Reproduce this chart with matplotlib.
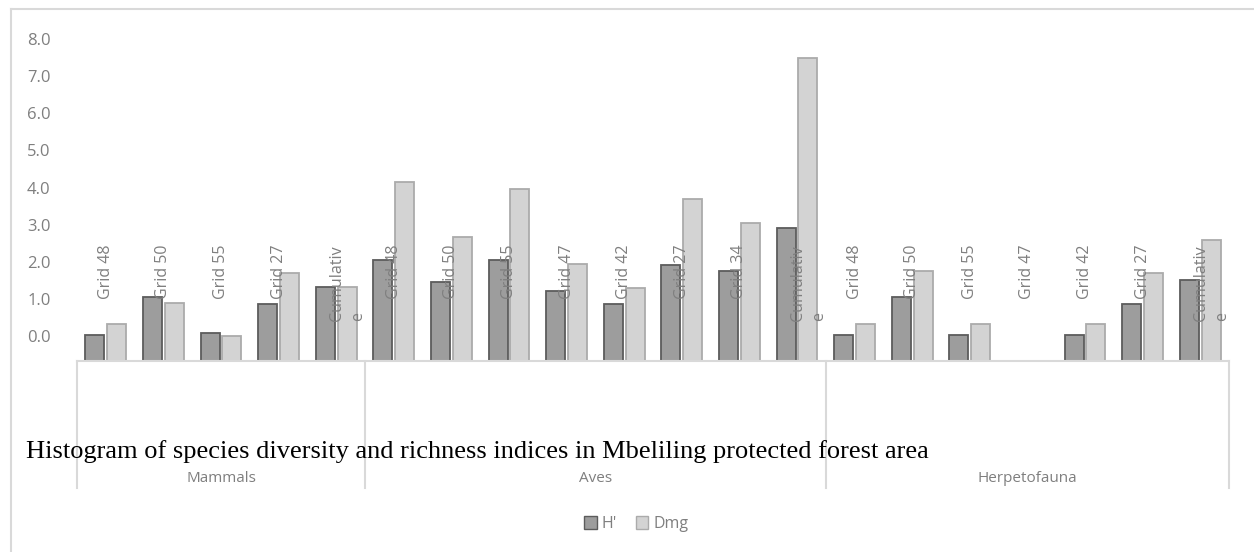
import matplotlib
matplotlib.use("Agg")
import matplotlib.pyplot as plt
import numpy as np
from matplotlib.patches import Patch
from matplotlib.lines import Line2D
from matplotlib.transforms import offset_copy

# taxa groups and their sampling sites
groups = ["Mammals", "Aves", "Herpetofauna"]
mammal_sites = ["Grid 48", "Grid 50", "Grid 55", "Grid 27", "Cumulative"]
aves_sites = ["Grid 48", "Grid 50", "Grid 55", "Grid 47", "Grid 42", "Grid 27", "Grid 34", "Cumulative"]
herp_sites = ["Grid 48", "Grid 50", "Grid 55", "Grid 47", "Grid 42", "Grid 27", "Cumulative"]

# Shannon diversity (H') and Margalef richness (Dmg)
mammal_h = [0.03, 1.04, 0.07, 0.85, 1.32]
mammal_dmg = [0.32, 0.88, 0.01, 1.69, 1.32]
aves_h = [2.04, 1.45, 2.06, 1.22, 0.85, 1.92, 1.74, 2.90]
aves_dmg = [4.15, 2.68, 3.95, 1.95, 1.30, 3.69, 3.05, 7.49]
herp_h = [0.03, 1.04, 0.03, np.nan, 0.03, 0.85, 1.51]
herp_dmg = [0.32, 1.76, 0.32, np.nan, 0.32, 1.69, 2.60]

title = "Histogram of species diversity and richness indices in Mbeliling protected forest area"

plt.rcParams['font.family'] = ['Open Sans', 'DejaVu Sans']

W, H = 1254, 552
fig = plt.figure(figsize=(W / 100, H / 100), dpi=100)

# plot area in pixels
left_px, right_px = 77, 1229
base_px, top_px = 360.5, 25
ax = fig.add_axes([left_px / W, 1 - base_px / H, (right_px - left_px) / W, (base_px - top_px) / H])

site_lists = [mammal_sites, aves_sites, herp_sites]
h_vals = np.array(mammal_h + aves_h + herp_h, dtype=float)
dmg_vals = np.array(mammal_dmg + aves_dmg + herp_dmg, dtype=float)
labels = mammal_sites + aves_sites + herp_sites
x = np.arange(len(labels))

ymin, ymax = -0.66, 8.38
bw = 0.33
off = 0.19
grey = '#7f7f7f'
# the category axis crosses at the axis minimum, so bars grow from there
ax.bar(x - off, h_vals - ymin, bw, bottom=ymin, color='#9d9d9d', edgecolor='#5c5c5c',
       linewidth=1.3, zorder=2)
ax.bar(x + off, dmg_vals - ymin, bw, bottom=ymin, color='#d3d3d3', edgecolor='#ababab',
       linewidth=1.3, zorder=2)

ax.set_xlim(-0.5, len(labels) - 0.5)
ax.set_ylim(ymin, ymax)
ax.set_yticks(np.arange(0, 9, 1))
ax.yaxis.set_major_formatter(matplotlib.ticker.FormatStrFormatter('%.1f'))
ax.tick_params(axis='y', length=0, pad=19, labelsize=12, labelcolor=grey)
ax.set_xticks([])
for s in ax.spines.values():
    s.set_visible(False)

# rotated site labels sitting inside the plot
label_y = (336 - 245) / 37.1
shifted = offset_copy(ax.transData, fig=fig, x=11.5, y=0, units='dots')
for xi, lab in zip(x, labels):
    if lab == "Cumulative":
        ax.text(xi, label_y, "Cumulativ\ne", rotation=90, ha='center', va='top',
                multialignment='left', linespacing=1.4, fontsize=11.5, color=grey,
                transform=shifted, zorder=3)
    else:
        ax.text(xi, label_y, lab, rotation=90, ha='center', va='top',
                fontsize=11.5, color=grey, zorder=3)

# multi-level category axis box
line_c = '#d9d9d9'
bottom_px = 488
fig.add_artist(Line2D([left_px / W, right_px / W], [1 - base_px / H] * 2,
                      color=line_c, lw=1.5))
edges = np.cumsum([0] + [len(s) for s in site_lists])
px_per = (right_px - left_px) / len(labels)
for e in edges:
    xp = left_px + e * px_per
    fig.add_artist(Line2D([xp / W] * 2, [1 - base_px / H, 1 - bottom_px / H],
                          color=line_c, lw=1.5))
for g, a, b in zip(groups, edges[:-1], edges[1:]):
    xc = left_px + (a + b) / 2 * px_per
    fig.text(xc / W, 1 - 478 / H, g, ha='center', va='center', fontsize=11, color=grey)

# outer chart border (top and left visible)
fig.add_artist(Line2D([11 / W, 1], [1 - 9 / H] * 2, color=line_c, lw=1.5))
fig.add_artist(Line2D([11 / W] * 2, [0, 1 - 9 / H], color=line_c, lw=1.5))

fig.text(26 / W, 1 - 458 / H, title, ha='left', va='baseline', fontsize=19,
         family='Liberation Serif', color='black', zorder=5)

handles = [Patch(facecolor='#9d9d9d', edgecolor='#5c5c5c', label="H'"),
           Patch(facecolor='#d3d3d3', edgecolor='#ababab', label='Dmg')]
fig.legend(handles=handles, loc='center', bbox_to_anchor=(636 / W, 1 - 524 / H), ncol=2,
           frameon=False, fontsize=11.5, labelcolor=grey, handlelength=0.8, handleheight=0.8,
           handletextpad=0.3, columnspacing=1.2)

fig.savefig('out.png', dpi=100)
